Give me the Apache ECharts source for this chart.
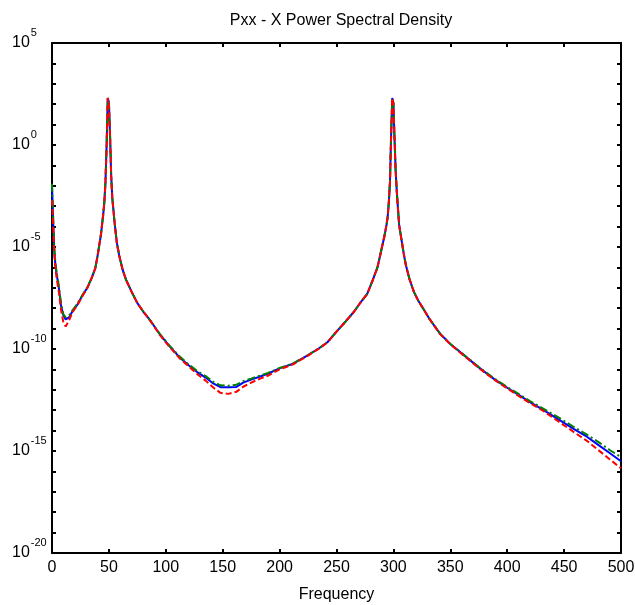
<!DOCTYPE html>
<html>
<head>
<meta charset="utf-8">
<script src="https://cdn.jsdelivr.net/npm/echarts@6/dist/echarts.min.js"></script>
<style>
html,body{margin:0;padding:0;background:#fff;}
#chart{width:635px;height:605px;}
</style>
</head>
<body>
<div id="chart"></div>
<script>
// Frequency values (Hz)
var freq = [0,1,2,3,4,6,8,10,12,13,15,18,22,27,31,35,38,40,43,45,46,47,48,49,50,51,52,53,55,57,59,62,65,70,75,80,87,95,103,112,120,128,135,142,148,155,162,168,175,183,190,200,212,225,235,242,250,258,265,272,277,282,286,290,292,294,295,296,297,298,299,300,301,302,303,305,307,309,311,314,318,322,326,332,341,350,362,375,388,400,410,420,432,445,458,470,480,490,500];
// log10(Pxx)
var blueLog = [-2.0,-3.7,-5.2,-5.9,-6.3,-7.0,-7.9,-8.35,-8.55,-8.55,-8.45,-8.15,-7.85,-7.35,-7.0,-6.5,-6.05,-5.45,-4.4,-3.4,-2.8,-1.8,0.0,2.3,2.1,0.5,-1.5,-2.6,-3.8,-4.8,-5.4,-6.1,-6.6,-7.2,-7.75,-8.15,-8.65,-9.3,-9.85,-10.4,-10.8,-11.15,-11.4,-11.7,-11.87,-11.88,-11.86,-11.65,-11.5,-11.35,-11.2,-10.95,-10.72,-10.3,-9.95,-9.67,-9.15,-8.65,-8.2,-7.65,-7.3,-6.6,-6.0,-5.0,-4.5,-3.9,-3.5,-2.8,-1.8,0.5,2.3,2.05,0.3,-1.3,-2.3,-3.9,-4.6,-5.3,-5.9,-6.55,-7.2,-7.65,-8.0,-8.55,-9.25,-9.75,-10.3,-10.9,-11.45,-11.9,-12.25,-12.6,-13.0,-13.45,-13.9,-14.3,-14.7,-15.1,-15.5];
var greenLog = [-1.9,-3.5,-5.0,-5.8,-6.2,-6.9,-7.8,-8.3,-8.45,-8.45,-8.35,-8.1,-7.8,-7.33,-6.98,-6.5,-6.05,-5.45,-4.4,-3.4,-2.8,-1.8,0.0,2.3,2.1,0.5,-1.5,-2.6,-3.8,-4.8,-5.4,-6.1,-6.6,-7.2,-7.75,-8.15,-8.65,-9.28,-9.82,-10.36,-10.75,-11.1,-11.33,-11.62,-11.78,-11.8,-11.75,-11.58,-11.45,-11.3,-11.17,-10.93,-10.7,-10.3,-9.95,-9.67,-9.15,-8.65,-8.2,-7.65,-7.3,-6.6,-6.0,-5.0,-4.5,-3.9,-3.5,-2.8,-1.8,0.5,2.3,2.05,0.3,-1.3,-2.3,-3.9,-4.6,-5.3,-5.9,-6.55,-7.2,-7.65,-8.0,-8.55,-9.25,-9.75,-10.3,-10.88,-11.42,-11.86,-12.2,-12.55,-12.93,-13.35,-13.8,-14.2,-14.55,-14.95,-15.3];
var redLog = [-2.7,-3.9,-5.3,-6.0,-6.5,-7.2,-8.1,-8.7,-8.9,-8.9,-8.6,-8.2,-7.88,-7.38,-7.02,-6.5,-6.05,-5.45,-4.4,-3.4,-2.8,-1.8,0.0,2.3,2.1,0.5,-1.5,-2.6,-3.8,-4.8,-5.4,-6.1,-6.6,-7.2,-7.75,-8.15,-8.67,-9.33,-9.88,-10.45,-10.85,-11.25,-11.55,-11.9,-12.15,-12.2,-12.1,-11.85,-11.65,-11.45,-11.3,-11.0,-10.75,-10.32,-9.97,-9.68,-9.15,-8.65,-8.2,-7.65,-7.3,-6.6,-6.0,-5.0,-4.5,-3.9,-3.5,-2.8,-1.8,0.5,2.3,2.05,0.3,-1.3,-2.3,-3.9,-4.6,-5.3,-5.9,-6.55,-7.2,-7.65,-8.0,-8.55,-9.27,-9.77,-10.33,-10.93,-11.48,-11.93,-12.3,-12.65,-13.05,-13.55,-14.05,-14.5,-14.95,-15.4,-15.85];
// Axis ticks
var xTicks = {min: 0, max: 500, step: 50};
var yTicks = {min: -20, max: 5, step: 1, labelEvery: 5};

var FONT = 'Liberation Sans, Arial, Helvetica, sans-serif';
function pairs(vals){ return freq.map(function(f,i){ return [f, vals[i]]; }); }

var chart = echarts.init(document.getElementById('chart'), null, {renderer:'canvas'});
var axisLine = {show:true, onZero:false, lineStyle:{color:'#000', width:2}};
var tick = {show:true, inside:true, length:4, lineStyle:{color:'#000', width:2}};
chart.setOption({
  animation:false,
  backgroundColor:'#fff',
  title:{
    text:'Pxx - X Power Spectral Density',
    left:336, top:8, textAlign:'center',
    textStyle:{fontFamily:FONT, fontSize:16, fontWeight:'normal', color:'#000'}
  },
  grid:{left:52, right:14, top:43, bottom:52, containLabel:false, outerBoundsMode:'none'},
  xAxis:[{
    type:'value', min:xTicks.min, max:xTicks.max, interval:xTicks.step,
    position:'bottom',
    name:'Frequency', nameLocation:'middle', nameGap:34,
    nameTextStyle:{fontFamily:FONT, fontSize:16, color:'#000'},
    axisLine:axisLine, axisTick:tick,
    axisLabel:{fontFamily:FONT, fontSize:16, color:'#000', margin:7},
    splitLine:{show:false}
  },{
    type:'value', min:xTicks.min, max:xTicks.max, interval:xTicks.step,
    position:'top',
    axisLine:axisLine, axisTick:tick, axisLabel:{show:false}, splitLine:{show:false}
  }],
  yAxis:[{
    type:'value', min:yTicks.min, max:yTicks.max, interval:yTicks.step,
    position:'left',
    axisLine:axisLine, axisTick:tick,
    axisLabel:{
      margin:40, align:'left', padding:[19,0,0,0],
      formatter:function(v){
        if (Math.round(v) % yTicks.labelEvery !== 0) return '';
        return '{b|10}{s|' + Math.round(v) + '}';
      },
      rich:{
        b:{fontFamily:FONT, fontSize:16, color:'#000', verticalAlign:'bottom', lineHeight:16, padding:[0,0,10,0]},
        s:{fontFamily:FONT, fontSize:11, color:'#000', verticalAlign:'bottom', lineHeight:11, padding:[0,0,22,1]}
      }
    },
    splitLine:{show:false}
  },{
    type:'value', min:yTicks.min, max:yTicks.max, interval:yTicks.step,
    position:'right',
    axisLine:axisLine, axisTick:tick, axisLabel:{show:false}, splitLine:{show:false}
  }],
  series:[
    {type:'line', name:'blue', data:pairs(blueLog), showSymbol:false, symbol:'none',
     lineStyle:{color:'#0000ff', width:2}, z:2},
    {type:'line', name:'green', data:pairs(greenLog), showSymbol:false, symbol:'none',
     lineStyle:{color:'#008000', width:2, type:[8,3,2,3]}, z:3},
    {type:'line', name:'red', data:pairs(redLog), showSymbol:false, symbol:'none',
     lineStyle:{color:'#ff0000', width:2, type:[6,3]}, z:4}
  ]
});
</script>
</body>
</html>
